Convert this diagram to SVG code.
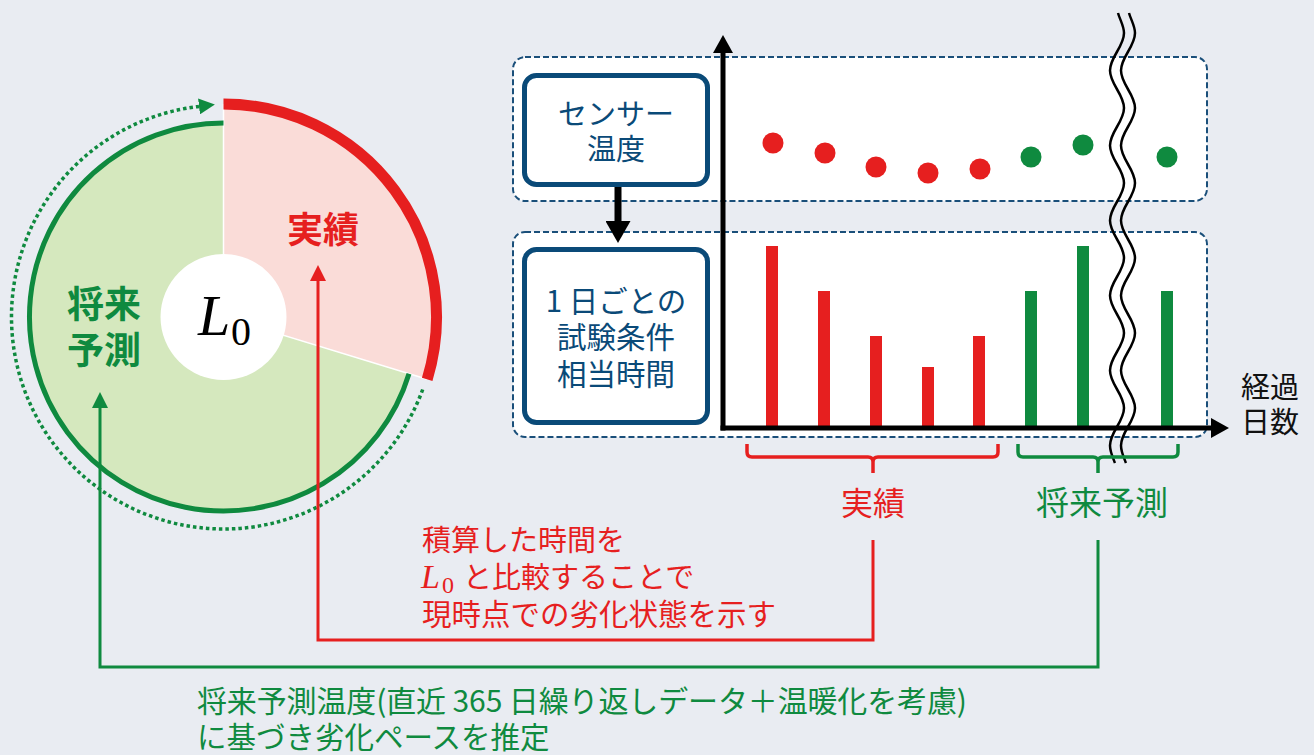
<svg xmlns="http://www.w3.org/2000/svg" width="1314" height="755" viewBox="0 0 1314 755">
<style>
.jp{font-family:"Noto Sans CJK JP","Noto Sans",sans-serif}
.b{font-weight:700}
.red{fill:#e61f1f}
.grn{fill:#0f8a3f}
.blu{fill:#0a4a78}
.ser{font-family:"Liberation Serif","DejaVu Serif",serif}
.panel{fill:#ffffff;stroke:#1a4f7a;stroke-width:2;stroke-dasharray:6 3}
.node{fill:#ffffff;stroke:#0a4a78;stroke-width:5}
.bar-r{fill:#e61f1f}
.bar-g{fill:#0f8a3f}
.wave{fill:none;stroke:#000;stroke-width:2.5}
.brace{fill:none;stroke-width:3.5;stroke-linejoin:round}
.conn{fill:none;stroke-width:3}
</style>
<defs>
<marker id="ahR" markerUnits="userSpaceOnUse" viewBox="0 0 16 16" markerWidth="16" markerHeight="16" refX="0" refY="8" orient="auto"><path d="M0,0 L16,8 L0,16 Z" fill="#e61f1f"/></marker>
<marker id="ahG" markerUnits="userSpaceOnUse" viewBox="0 0 16 16" markerWidth="16" markerHeight="16" refX="0" refY="8" orient="auto"><path d="M0,0 L16,8 L0,16 Z" fill="#0f8a3f"/></marker>
<marker id="ahK" markerUnits="userSpaceOnUse" viewBox="0 0 18 20" markerWidth="18" markerHeight="20" refX="0" refY="10" orient="auto"><path d="M0,0 L18,10 L0,20 Z" fill="#000"/></marker>
<marker id="ahS" markerUnits="userSpaceOnUse" viewBox="0 0 22 25" markerWidth="22" markerHeight="25" refX="0" refY="12.5" orient="auto"><path d="M0,0 L22,12.5 L0,25 Z" fill="#000"/></marker>
<path id="wave" d="M1118,13 C1120,20 1124,26 1124,33 C1124,46.6 1110,56.9 1110,70.5 C1110,84.1 1124,94.4 1124,108 C1124,121.6 1110,131.9 1110,145.5 C1110,159.1 1124,169.4 1124,183 C1124,196.6 1110,206.9 1110,220.5 C1110,234.1 1124,244.4 1124,258 C1124,271.6 1110,281.9 1110,295.5 C1110,309.1 1124,319.4 1124,333 C1124,346.6 1110,356.9 1110,370.5 C1110,384.1 1124,394.4 1124,408 C1124,421.6 1110,431.9 1110,445.5 C1110,452 1113,458 1115,463"/>
</defs>
<rect width="1314" height="755" fill="#e9ecf2"/>

<g id="pie">
<path d="M223.5,317 L409,373.7 A194,194 0 1 1 223.5,123 Z" fill="#d5e8be"/>
<path d="M223.5,317 L223.5,104 A213,213 0 0 1 427.2,379.3 Z" fill="#fadcd8"/>
<path d="M223.5,317 L223.5,104 M223.5,317 L427.2,379.3" stroke="#ffffff" stroke-width="1.5"/>
<path d="M223.5,104 A213,213 0 0 1 427.2,379.3" fill="none" stroke="#e61f1f" stroke-width="11"/>
<path d="M409,373.7 A194,194 0 1 1 223.5,123" fill="none" stroke="#0f8a3f" stroke-width="5"/>
<path d="M422.7,389.5 A212,212 0 1 1 199,106.4" fill="none" stroke="#0f8a3f" stroke-width="3.5" stroke-dasharray="3.5 3" marker-end="url(#ahG)"/>
<circle cx="223.5" cy="317" r="63" fill="#ffffff"/>
<text x="198" y="335" class="ser" font-style="italic" font-size="58" fill="#000">L</text>
<text x="231" y="345" class="ser" font-size="40" fill="#000">0</text>
<text x="323" y="243" class="jp b red" font-size="36" text-anchor="middle">実績</text>
<text x="104" y="318" class="jp b grn" font-size="37" text-anchor="middle">将来</text>
<text x="104" y="364" class="jp b grn" font-size="37" text-anchor="middle">予測</text>
</g>

<g id="panel-sensor">
<rect class="panel" x="513" y="57" width="694" height="144" rx="12"/>
</g>
<g id="panel-time">
<rect class="panel" x="513" y="232" width="694" height="205" rx="12"/>
</g>

<g id="node-sensor">
<rect class="node" x="524.5" y="75.5" width="183" height="109" rx="12"/>
<text class="jp blu" font-size="29" text-anchor="middle" x="616" y="125">センサー</text>
<text class="jp blu" font-size="29" text-anchor="middle" x="616" y="160">温度</text>
</g>

<g id="node-testtime">
<rect class="node" x="524.5" y="249.5" width="183" height="173" rx="12"/>
<text class="jp blu" font-size="29.5" text-anchor="middle" x="616" y="312">1 日ごとの</text>
<text class="jp blu" font-size="29.5" text-anchor="middle" x="616" y="348">試験条件</text>
<text class="jp blu" font-size="29.5" text-anchor="middle" x="616" y="385">相当時間</text>
</g>

<g id="chart">
<g id="dots">
<circle cx="773" cy="143" r="10.5" fill="#e61f1f"/>
<circle cx="825" cy="153" r="10.5" fill="#e61f1f"/>
<circle cx="876" cy="167" r="10.5" fill="#e61f1f"/>
<circle cx="928" cy="173" r="10.5" fill="#e61f1f"/>
<circle cx="980" cy="169" r="10.5" fill="#e61f1f"/>
<circle cx="1031" cy="157" r="10.5" fill="#0f8a3f"/>
<circle cx="1083" cy="145" r="10.5" fill="#0f8a3f"/>
<circle cx="1167" cy="157" r="10.5" fill="#0f8a3f"/>
</g>
<g id="bars">
<rect class="bar-r" x="766" y="246" width="12" height="182"/>
<rect class="bar-r" x="818" y="291" width="12" height="137"/>
<rect class="bar-r" x="870" y="336" width="12" height="92"/>
<rect class="bar-r" x="922" y="367" width="12" height="61"/>
<rect class="bar-r" x="973" y="336" width="12" height="92"/>
<rect class="bar-g" x="1025" y="291" width="12" height="137"/>
<rect class="bar-g" x="1077" y="246" width="12" height="182"/>
<rect class="bar-g" x="1161" y="291" width="12" height="137"/>
</g>
<g id="axes">
<path d="M723,430.5 V53" stroke="#000" stroke-width="5" fill="none" marker-end="url(#ahK)"/>
<path d="M720.5,428 H1211" stroke="#000" stroke-width="5" fill="none" marker-end="url(#ahK)"/>
</g>
<g id="break">
<use href="#wave" class="wave"/>
<use href="#wave" class="wave" transform="translate(11,0)"/>
</g>
<text class="jp" font-size="29" x="1241" y="398" fill="#111">経過</text>
<text class="jp" font-size="29" x="1241" y="433" fill="#111">日数</text>
</g>

<g id="brace-actual">
<path class="brace" stroke="#e61f1f" d="M747,444 V452 Q747,457 752,457 H868 Q873,457 873,462 V473 M873,462 Q873,457 878,457 H993 Q998,457 998,452 V444"/>
<text x="873" y="515" class="jp red" font-size="32" text-anchor="middle">実績</text>
</g>
<g id="brace-forecast">
<path class="brace" stroke="#0f8a3f" d="M1018,444 V452 Q1018,457 1023,457 H1093 Q1098,457 1098,462 V473 M1098,462 Q1098,457 1103,457 H1173 Q1178,457 1178,452 V444"/>
<text x="1102" y="515" class="jp grn" font-size="33" text-anchor="middle">将来予測</text>
</g>

<g id="connectors">
<path d="M618,187 V221" stroke="#000" stroke-width="7" fill="none" marker-end="url(#ahS)"/>
<path class="conn" stroke="#e61f1f" d="M873,540 V640 H318 V281" marker-end="url(#ahR)"/>
<path class="conn" stroke="#0f8a3f" d="M1098,540 V667 H100 V408" marker-end="url(#ahG)"/>
</g>

<g id="label-actual">
<text class="jp red" font-size="29" x="422" y="551">積算した時間を</text>
<text class="ser red" font-size="34" font-style="italic" x="421" y="588">L</text>
<text class="ser red" font-size="24" x="442" y="593">0</text>
<text class="jp red" font-size="29" x="463" y="588">と比較することで</text>
<text class="jp red" font-size="29.5" x="422" y="625">現時点での劣化状態を示す</text>
</g>

<g id="label-forecast">
<text class="jp grn" font-size="30" x="197" y="712" textLength="770" lengthAdjust="spacing">将来予測温度(直近 365 日繰り返しデータ＋温暖化を考慮)</text>
<text class="jp grn" font-size="29.5" x="197" y="748">に基づき劣化ペースを推定</text>
</g>
</svg>
